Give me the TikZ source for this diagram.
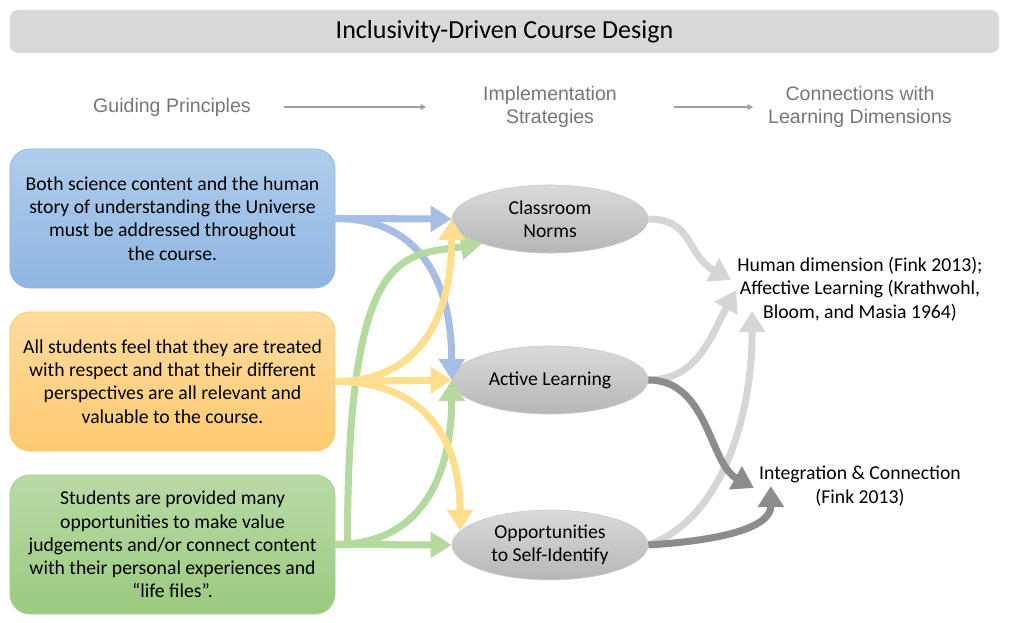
\documentclass[tikz,border=0pt]{standalone}
\usepackage{fontspec}
\setmainfont{Carlito}
\newfontfamily\headfont{Liberation Sans}
\usepackage{tikz}
\usetikzlibrary{positioning,arrows.meta,shapes.geometric,calc}
\definecolor{titlegray}{HTML}{D9D9D9}
\definecolor{headgray}{HTML}{767676}
\definecolor{bluetop}{HTML}{B0CDEC}
\definecolor{bluebot}{HTML}{8EB6E2}
\definecolor{blueline}{HTML}{93B6E0}
\definecolor{orangetop}{HTML}{FFDB9E}
\definecolor{orangebot}{HTML}{FFCA70}
\definecolor{orangeline}{HTML}{FFCB62}
\definecolor{greentop}{HTML}{B9DAA6}
\definecolor{greenbot}{HTML}{9BCA80}
\definecolor{greenline}{HTML}{A6CF8F}
\definecolor{strattop}{HTML}{DADADA}
\definecolor{stratbot}{HTML}{B6B6B6}
\definecolor{stratline}{HTML}{C8C8C8}
\definecolor{bluearr}{HTML}{A6BDE5}
\definecolor{orangearr}{HTML}{FFDE8E}
\definecolor{greenarr}{HTML}{B4DAA0}
\definecolor{lightarr}{HTML}{D6D6D6}
\definecolor{darkarr}{HTML}{8E8B8B}

\begin{document}
\begin{tikzpicture}[x=0.025cm, y=-0.025cm,
      banner/.style={rectangle, rounded corners=0.2cm, fill=titlegray,
      minimum width=24.725cm, minimum height=1.075cm,
      font=\fontsize{18.5}{22}\selectfont},
      header/.style={align=center, text=headgray,
      font=\headfont\fontsize{13.9}{16.5}\selectfont},
      principle/.style={rectangle, rounded corners=0.5cm, line width=0.6pt,
      minimum width=8.125cm, minimum height=3.475cm, align=center,
      font=\fontsize{14}{16.5}\selectfont},
      strategy/.style={ellipse, draw=stratline, top color=strattop,
      bottom color=stratbot, minimum width=4.9cm, minimum height=1.7cm,
      align=center, font=\fontsize{14}{16.5}\selectfont},
      dimension/.style={align=center, inner sep=0pt,
      font=\fontsize{14}{16.5}\selectfont},
      headarrow/.style={-{Triangle[length=4pt, width=4pt]}, line width=1pt, headgray!70},
      flow/.style={-{Triangle[length=15pt, width=18pt]}, line width=5pt},
    ]
    \useasboundingbox (0,0) rectangle (1009,623);

    \node[banner] (title) at (504.5,31.5) {Inclusivity-Driven Course Design};

    % column headers
    \node[header] (gp) at (172,107) {Guiding Principles};
    \node[header] (is) at (550,107) {Implementation\\Strategies};
    \node[header] (cld) at (860,107) {Connections with\\Learning Dimensions};
    \draw[headarrow, shorten <=0.7cm, shorten >=1.3cm] (gp.east) -- (is.west);
    \draw[headarrow, shorten <=1.3cm, shorten >=0.25cm] (is.east) -- (cld.west);

    % guiding principles
    \node[principle, draw=blueline, top color=bluetop, bottom color=bluebot]
      (content) at (172.5,218.5) {Both science content and the human\\story
      of understanding the Universe\\must be addressed throughout\\the course.};
    \node[principle, draw=orangeline, top color=orangetop, bottom color=orangebot]
      (respect) at (172.5,381.5) {All students feel that they are treated\\with
      respect and that their different\\perspectives are all relevant and\\valuable
      to the course.};
    \node[principle, draw=greenline, top color=greentop, bottom color=greenbot]
      (value) at (172.5,544.5) {Students are provided many\\opportunities to make
      value\\judgements and/or connect content\\with their personal experiences
      and\\``life files''.};

    % strategies
    \node[strategy] (norms) at (550,219) {Classroom\\Norms};
    \node[strategy] (active) at (550,380) {Active Learning};
    \node[strategy] (selfid) at (550,545) {Opportunities\\to Self-Identify};

    % learning dimensions
    \node[dimension] (human) at (860,289) {Human dimension (Fink 2013);\\Affective
      Learning (Krathwohl,\\Bloom, and Masia 1964)};
    \node[dimension] (integ) at (860,486) {Integration \& Connection\\(Fink 2013)};

    % principles -> strategies
    \draw[flow, bluearr] (content.east) -- (norms.west);
    \draw[flow, bluearr] (content.east) .. controls +(90,0) and +(0,-90) .. (active.west);
    \draw[flow, greenarr] (value.east) -- ++(12,0)
      .. controls +(0,-300) and +(-80,12) .. (norms.200);
    \draw[flow, greenarr] (value.east) .. controls +(90,0) and +(0,90) .. (active.west);
    \draw[flow, greenarr] (value.east) -- (selfid.west);
    \draw[flow, orangearr] (respect.east) .. controls +(90,0) and +(0,90) .. (norms.west);
    \draw[flow, orangearr] (respect.east) -- (active.west);
    \draw[flow, orangearr] (respect.east) .. controls +(90,0) and +(0,-90) .. (selfid.171);

    % strategies -> dimensions
    \draw[flow, lightarr] (norms.east) .. controls +(45,0) and +(-45,-25)
      .. ($(human.west)+(-6,-9)$);
    \draw[flow, lightarr] (active.east) .. controls +(50,0) and +(-25,45)
      .. ($(human.west)+(-1,1)$);
    \draw[flow, lightarr] (selfid.east) .. controls +(72,-25) and +(0,108)
      .. ($(human.south west)+(15,-10)$);
    \draw[flow, darkarr] (active.east) .. controls +(60,0) and +(-45,-25)
      .. ($(integ.west)+(-5,2)$);
    \draw[flow, darkarr] (selfid.east) .. controls +(80,-5) and +(0,40)
      .. ($(integ.south west)+(12,-20)$);
  \end{tikzpicture}
\end{document}
